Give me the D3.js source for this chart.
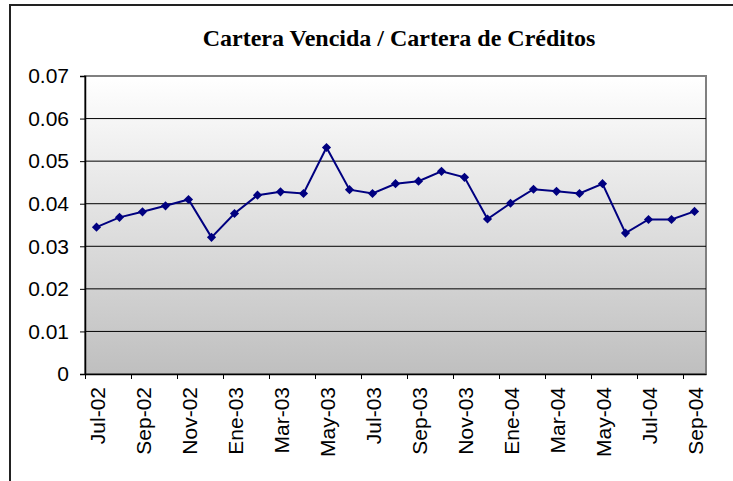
<!DOCTYPE html>
<html>
<head>
<meta charset="utf-8">
<script src="https://cdn.jsdelivr.net/npm/d3@7"></script>
<style>
  body { margin: 0; background: #fff; }
  svg { display: block; }
</style>
</head>
<body>
<div id="container"></div>
<script>
const width = 733;
const height = 481;

const months = [
  "Jul-02", "Ago-02", "Sep-02", "Oct-02", "Nov-02", "Dic-02",
  "Ene-03", "Feb-03", "Mar-03", "Abr-03", "May-03", "Jun-03",
  "Jul-03", "Ago-03", "Sep-03", "Oct-03", "Nov-03", "Dic-03",
  "Ene-04", "Feb-04", "Mar-04", "Abr-04", "May-04", "Jun-04",
  "Jul-04", "Ago-04", "Sep-04"
];
const ratio = [
  0.0345, 0.0368, 0.0381, 0.0395, 0.0410, 0.0321,
  0.0377, 0.0420, 0.0428, 0.0424, 0.0532, 0.0433,
  0.0424, 0.0447, 0.0453, 0.0476, 0.0462, 0.0364,
  0.0401, 0.0434, 0.0429, 0.0424, 0.0447, 0.0331,
  0.0363, 0.0363, 0.0382
];
const yTicks = [0, 0.01, 0.02, 0.03, 0.04, 0.05, 0.06, 0.07];
const title = "Cartera Vencida / Cartera de Créditos";

const plotLeft = 85;
const plotRight = 706;
const plotTop = 76;
const plotBottom = 374;

const svg = d3.select("#container")
  .append("svg")
  .attr("width", width)
  .attr("height", height);

// outer chart frame (runs past the right and bottom edges)
svg.append("rect")
  .attr("x", 10)
  .attr("y", 5)
  .attr("width", 760)
  .attr("height", 520)
  .attr("fill", "#fff")
  .attr("stroke", "#222")
  .attr("stroke-width", 2);

const grad = svg.append("defs")
  .append("linearGradient")
  .attr("id", "bg")
  .attr("x1", 0).attr("y1", 0)
  .attr("x2", 0).attr("y2", 1);
grad.append("stop").attr("offset", "0%").attr("stop-color", "#ffffff");
grad.append("stop").attr("offset", "100%").attr("stop-color", "#bfbfbf");

const x = d3.scaleLinear()
  .domain([0, months.length])
  .range([plotLeft, plotRight]);

const y = d3.scaleLinear()
  .domain([0, 0.07])
  .range([plotBottom, plotTop]);

svg.append("rect")
  .attr("x", plotLeft)
  .attr("y", plotTop)
  .attr("width", plotRight - plotLeft)
  .attr("height", plotBottom - plotTop)
  .attr("fill", "url(#bg)")
  .attr("stroke", "#808080")
  .attr("stroke-width", 2);

// gridlines
svg.append("g")
  .selectAll("line")
  .data(yTicks.filter(d => d > 0 && d < 0.07))
  .enter()
  .append("line")
  .attr("x1", plotLeft)
  .attr("x2", plotRight)
  .attr("y1", d => y(d))
  .attr("y2", d => y(d))
  .attr("stroke", "#000")
  .attr("stroke-width", 1);

// y axis
const yAxis = svg.append("g")
  .attr("transform", `translate(${plotLeft},0)`)
  .call(d3.axisLeft(y)
    .tickValues(yTicks)
    .tickSize(5)
    .tickPadding(11)
    .tickFormat(d => d === 0 ? "0" : d.toFixed(2)));
yAxis.select(".domain").attr("stroke", "#000").attr("stroke-width", 1.5);
yAxis.selectAll(".tick line").attr("stroke", "#000");
yAxis.selectAll("text")
  .attr("fill", "#000")
  .style("font-family", "Liberation Sans, Arial, sans-serif")
  .style("font-size", "21px");

// x axis: tick marks every two months on category boundaries
const tickIdx = d3.range(0, months.length, 2);
const xAxis = svg.append("g")
  .attr("transform", `translate(0,${plotBottom})`)
  .call(d3.axisBottom(x)
    .tickValues(tickIdx)
    .tickSize(5)
    .tickSizeOuter(0)
    .tickFormat(""));
xAxis.select(".domain").attr("stroke", "#000").attr("stroke-width", 1.5);
xAxis.selectAll(".tick line").attr("stroke", "#000");

// x labels centred on categories
svg.append("g")
  .selectAll("text")
  .data(tickIdx)
  .enter()
  .append("text")
  .attr("transform", i => `translate(${x(i + 0.5) + 8},${plotBottom + 13}) rotate(-90)`)
  .attr("text-anchor", "end")
  .style("font-family", "Liberation Sans, Arial, sans-serif")
  .style("font-size", "21px")
  .text(i => months[i]);

// series line
const line = d3.line()
  .x((d, i) => x(i + 0.5))
  .y(d => y(d));

svg.append("path")
  .datum(ratio)
  .attr("fill", "none")
  .attr("stroke", "#000080")
  .attr("stroke-width", 2)
  .attr("d", line);

svg.append("g")
  .selectAll("path")
  .data(ratio)
  .enter()
  .append("path")
  .attr("d", d3.symbol().type(d3.symbolSquare).size(42))
  .attr("transform", (d, i) => `translate(${x(i + 0.5)},${y(d)}) rotate(45)`)
  .attr("fill", "#000080");

svg.append("text")
  .attr("x", 399)
  .attr("y", 46)
  .attr("text-anchor", "middle")
  .style("font-family", "Liberation Serif, Times New Roman, serif")
  .style("font-weight", "bold")
  .style("font-size", "24px")
  .text(title);
</script>
</body>
</html>
